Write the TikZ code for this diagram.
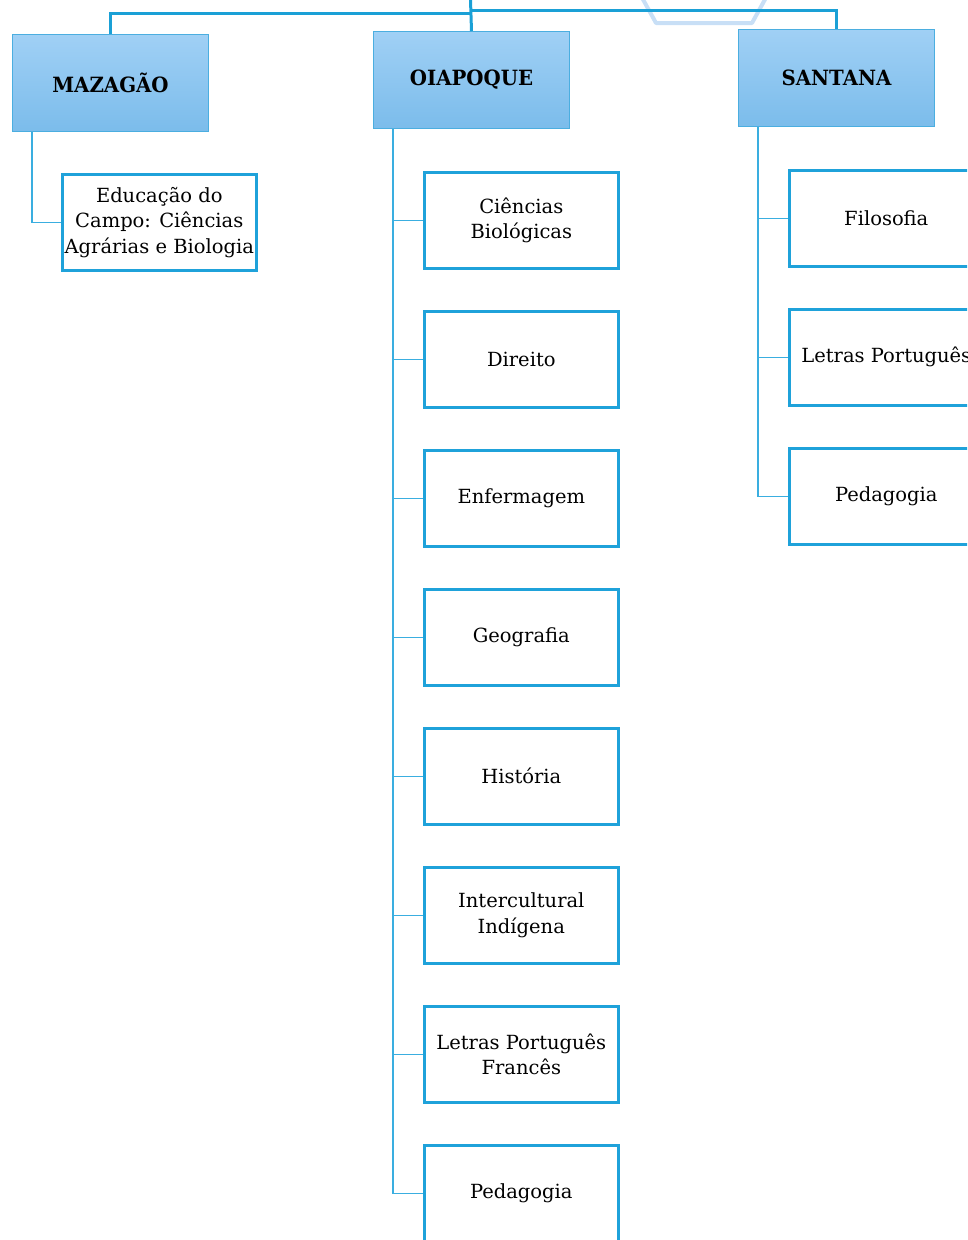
\documentclass[tikz,border=0pt]{standalone}
\usepackage{fontspec}
\setmainfont{DejaVu Serif}
\definecolor{busblue}{HTML}{1AA0D6}
\definecolor{linkblue}{HTML}{3AAEE0}
\definecolor{boxborder}{HTML}{1FA2DA}
\definecolor{headborder}{HTML}{4BAEE0}
\definecolor{headtop}{HTML}{A0D0F5}
\definecolor{headbot}{HTML}{7BBCEB}
\definecolor{hexblue}{HTML}{C8DFF6}
\newcommand{\headtext}[1]{\scalebox{0.94}[1]{#1}}
\tikzset{
  headbox/.style={draw=headborder, line width=1pt, top color=headtop, bottom color=headbot,
    minimum width=196pt, minimum height=97pt, inner sep=0pt, anchor=north west,
    font=\fontsize{21}{24}\selectfont\bfseries, text=black},
  childbox/.style={draw=boxborder, line width=2.6pt, fill=white,
    minimum width=194pt, minimum height=96pt, inner sep=0pt, anchor=north west,
    align=center, font=\fontsize{19.5}{25.5}\selectfont, text=black},
  bus/.style={draw=busblue, line width=3pt},
  link/.style={draw=linkblue, line width=1.4pt},
}
\begin{document}
\begin{tikzpicture}[x=1pt,y=-1pt]
\useasboundingbox (0,0) rectangle (967,1240);
\clip (0,0) rectangle (967,1240);
% faint hexagon
\draw[hexblue, line width=4pt, line join=round] (640,-6) -- (656,23) -- (752,23) -- (768,-6);
% header boxes
\node[headbox] (maz) at (12,34) {\headtext{MAZAGÃO}};
\node[headbox] (oia) at (373,31) {\headtext{OIAPOQUE}};
\node[headbox] (san) at (738,29) {\headtext{SANTANA}};
% bus
\coordinate (top) at (470.5,0);
\coordinate (jl) at (470.5,13);
\coordinate (jr) at (470.5,10);
\draw[bus] (top) -- (oia.north);
\draw[bus] (jl) -| (maz.north);
\draw[bus] (jr) -| (san.north);
% Mazagao child
\node[childbox] (m1) at (61,173) {Educação do\\Campo: Ciências\\Agrárias e Biologia};
\coordinate (mb) at ([xshift=20pt]maz.south west);
\draw[link] (mb) |- (m1.west);
% Oiapoque children
\node[childbox] (o1) at (423,171) {Ciências\\Biológicas};
\node[childbox] (o2) at (423,310) {Direito};
\node[childbox] (o3) at (423,449) {Enfermagem};
\node[childbox] (o4) at (423,588) {Geografia};
\node[childbox] (o5) at (423,727) {História};
\node[childbox] (o6) at (423,866) {Intercultural\\Indígena};
\node[childbox] (o7) at (423,1005) {Letras Português\\Francês};
\node[childbox] (o8) at (423,1144) {Pedagogia};
\coordinate (ob) at ([xshift=20pt]oia.south west);
\foreach \c in {o1,o2,o3,o4,o5,o6,o7,o8} \draw[link] (ob) |- (\c.west);
% Santana children
\node[childbox] (s1) at (788,169) {Filosofia};
\node[childbox] (s2) at (788,308) {Letras Português};
\node[childbox] (s3) at (788,447) {Pedagogia};
\coordinate (sb) at ([xshift=20pt]san.south west);
\foreach \c in {s1,s2,s3} \draw[link] (sb) |- (\c.west);
\end{tikzpicture}
\end{document}
